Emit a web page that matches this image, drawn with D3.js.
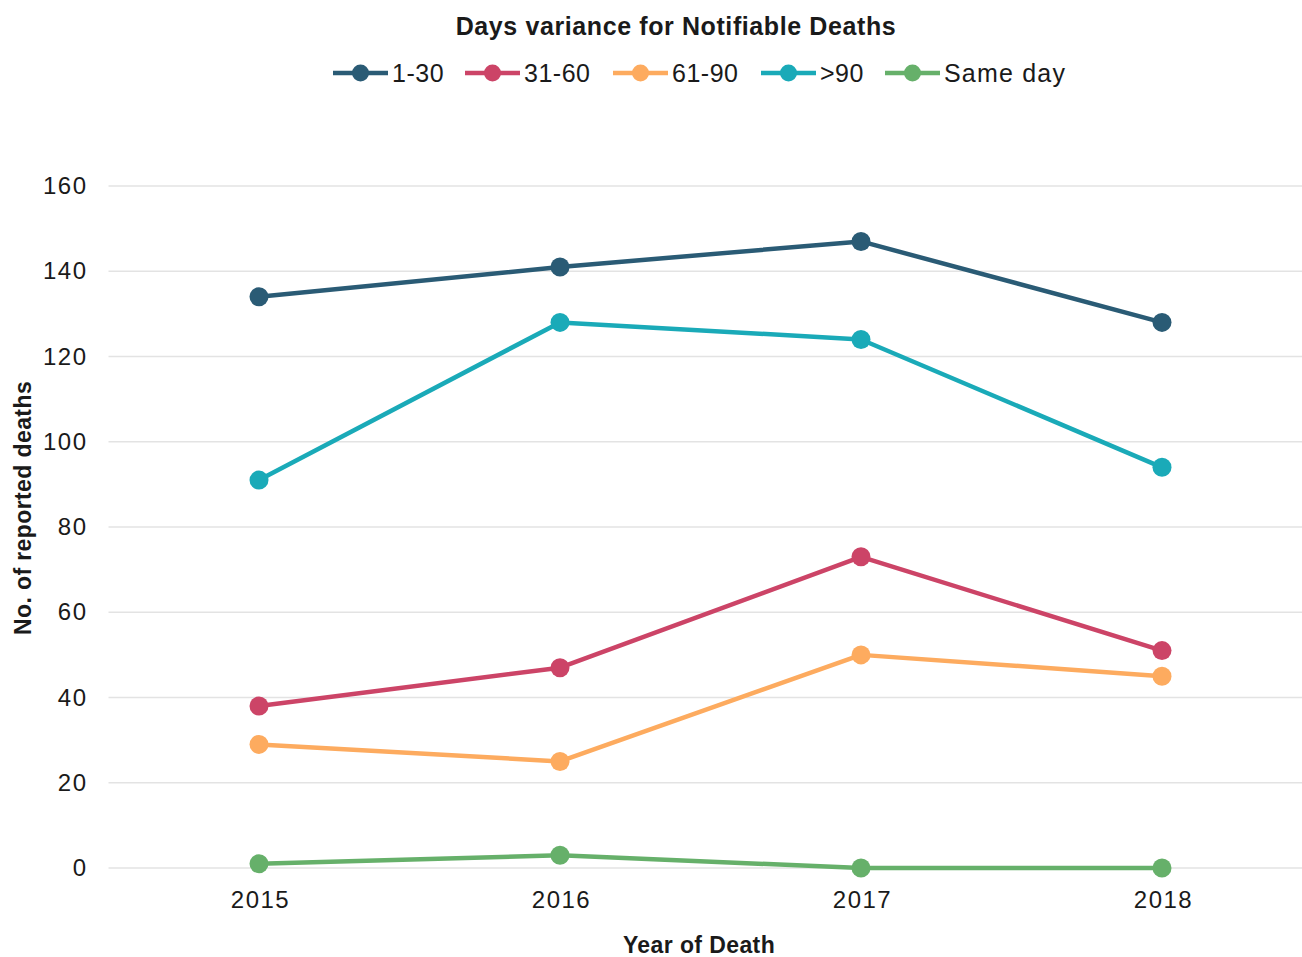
<!DOCTYPE html>
<html>
<head>
<meta charset="utf-8">
<script src="https://cdn.jsdelivr.net/npm/d3@7"></script>
<style>
  html, body { margin: 0; padding: 0; background: #fff; }
  svg { display: block; font-family: "Liberation Sans", Arial, sans-serif; }
</style>
</head>
<body>
<svg id="chart" width="1302" height="957"></svg>
<script>
// Reported deaths by year, grouped by days between death and notification
const years = ["2015", "2016", "2017", "2018"];
const seriesNames = ["1-30", "31-60", "61-90", ">90", "Same day"];
const seriesColors = ["#2a5b75", "#cc4467", "#fdab5f", "#1aaab8", "#66b06a"];
const values130 = [134, 141, 147, 128];
const values3160 = [38, 47, 73, 51];
const values6190 = [29, 25, 50, 45];
const valuesOver90 = [91, 128, 124, 94];
const valuesSameDay = [1, 3, 0, 0];
const yTicks = [0, 20, 40, 60, 80, 100, 120, 140, 160];

const seriesValues = [values130, values3160, values6190, valuesOver90, valuesSameDay];
const series = seriesNames.map((name, i) => ({
  name, color: seriesColors[i],
  points: years.map((y, j) => ({ year: y, value: seriesValues[i][j] }))
}));

const svg = d3.select("#chart");
const plotLeft = 108.5, plotRight = 1312.5, plotTop = 186, plotBottom = 868;

const x = d3.scalePoint().domain(years).range([plotLeft, plotRight]).padding(0.5);
const y = d3.scaleLinear().domain([0, 160]).range([plotBottom, plotTop]);

// Horizontal gridlines
svg.append("g")
  .selectAll("line")
  .data(yTicks)
  .join("line")
  .attr("x1", plotLeft).attr("x2", plotRight)
  .attr("y1", d => y(d)).attr("y2", d => y(d))
  .attr("stroke", "#e3e3e3").attr("stroke-width", 1.3);

// Y axis labels
const yAxis = svg.append("g")
  .attr("transform", `translate(${plotLeft - 21},0)`)
  .call(d3.axisLeft(y).tickValues(yTicks).tickSize(0).tickPadding(0));
yAxis.select(".domain").remove();
yAxis.selectAll("text")
  .attr("font-size", 24).attr("fill", "#1a1a1a")
  .attr("letter-spacing", 1.5)
  .attr("font-family", "Liberation Sans, Arial, sans-serif");

// X axis labels
const xAxis = svg.append("g")
  .attr("transform", `translate(1,${plotBottom + 23})`)
  .call(d3.axisBottom(x).tickSize(0).tickPadding(0));
xAxis.select(".domain").remove();
xAxis.selectAll("text")
  .attr("font-size", 24).attr("fill", "#1a1a1a")
  .attr("letter-spacing", 1.5)
  .attr("font-family", "Liberation Sans, Arial, sans-serif");

// Series lines and markers
const line = d3.line().x(d => x(d.year)).y(d => y(d.value));
const g = svg.append("g");
series.forEach(s => {
  g.append("path")
    .datum(s.points)
    .attr("d", line)
    .attr("fill", "none")
    .attr("stroke", s.color)
    .attr("stroke-width", 4.5)
    .attr("stroke-linejoin", "round");
  g.selectAll(null)
    .data(s.points)
    .join("circle")
    .attr("cx", d => x(d.year))
    .attr("cy", d => y(d.value))
    .attr("r", 9.5)
    .attr("fill", s.color);
});

// Title
svg.append("text")
  .attr("x", 676).attr("y", 35)
  .attr("text-anchor", "middle")
  .attr("font-size", 25).attr("font-weight", "bold").attr("fill", "#1a1a1a")
  .attr("letter-spacing", 0.6)
  .text("Days variance for Notifiable  Deaths");

// Legend
const legendX = [333, 465, 613, 761, 885];
const legend = svg.append("g");
series.forEach((s, i) => {
  const lx = legendX[i];
  const item = legend.append("g").attr("transform", `translate(${lx},73)`);
  item.append("line").attr("x1", 0).attr("x2", 55).attr("y1", 0).attr("y2", 0)
    .attr("stroke", s.color).attr("stroke-width", 4.5);
  item.append("circle").attr("cx", 27.5).attr("cy", 0).attr("r", 8.5).attr("fill", s.color);
  item.append("text").attr("x", 59).attr("y", 9)
    .attr("font-size", 25).attr("fill", "#1a1a1a")
    .attr("letter-spacing", s.name === "Same day" ? 1.2 : 0.5)
    .text(s.name);
});

// Axis titles
svg.append("text")
  .attr("transform", `translate(31,508) rotate(-90)`)
  .attr("text-anchor", "middle")
  .attr("font-size", 23).attr("font-weight", "bold").attr("fill", "#1a1a1a")
  .attr("letter-spacing", 0.4)
  .text("No. of reported deaths");

svg.append("text")
  .attr("x", 699).attr("y", 953)
  .attr("text-anchor", "middle")
  .attr("font-size", 23).attr("font-weight", "bold").attr("fill", "#1a1a1a")
  .attr("letter-spacing", 0.4)
  .text("Year of Death");
</script>
</body>
</html>
